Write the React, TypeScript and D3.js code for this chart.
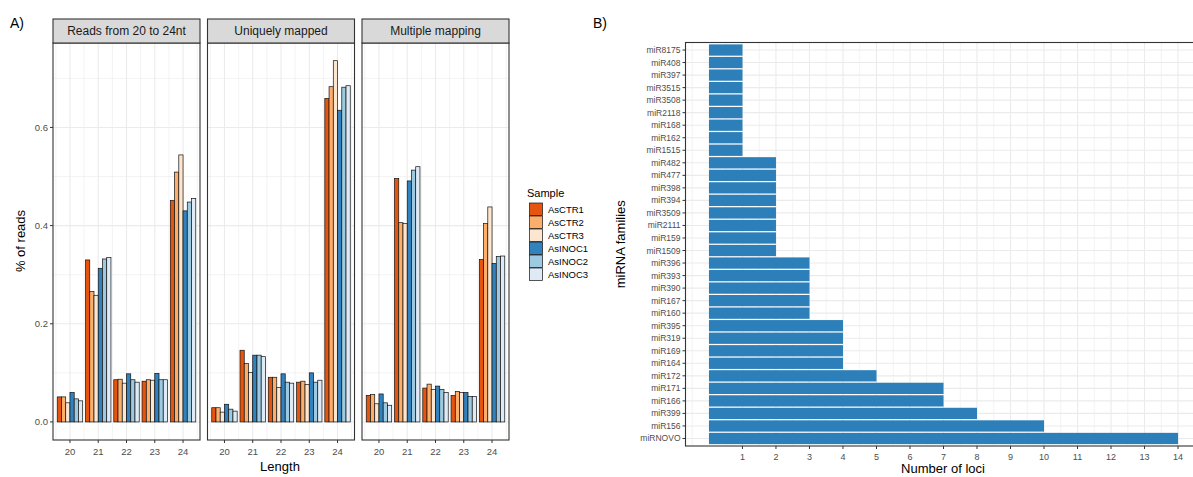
import React from 'react';
import * as d3 from 'd3';

// ---- data ----
const lengths = [20, 21, 22, 23, 24];
const samples = ['AsCTR1', 'AsCTR2', 'AsCTR3', 'AsINOC1', 'AsINOC2', 'AsINOC3'];
const sampleColors = ['#e6550d', '#fdae6b', '#fee6ce', '#3182bd', '#9ecae1', '#deebf7'];
const facets = ['Reads from 20 to 24nt', 'Uniquely mapped', 'Multiple mapping'];

// rows = length 20..24, cols = samples
const readsAll = [
  [0.051, 0.051, 0.039, 0.06, 0.047, 0.043],
  [0.33, 0.266, 0.258, 0.313, 0.332, 0.335],
  [0.086, 0.087, 0.079, 0.098, 0.086, 0.081],
  [0.083, 0.086, 0.085, 0.099, 0.086, 0.086],
  [0.451, 0.509, 0.544, 0.43, 0.448, 0.455],
];
const readsUnique = [
  [0.029, 0.029, 0.02, 0.036, 0.026, 0.022],
  [0.146, 0.119, 0.101, 0.136, 0.136, 0.133],
  [0.091, 0.091, 0.07, 0.098, 0.081, 0.079],
  [0.081, 0.083, 0.076, 0.1, 0.081, 0.085],
  [0.659, 0.683, 0.736, 0.635, 0.682, 0.685],
];
const readsMulti = [
  [0.054, 0.056, 0.037, 0.057, 0.039, 0.034],
  [0.496, 0.406, 0.404, 0.491, 0.513, 0.52],
  [0.069, 0.077, 0.066, 0.073, 0.066, 0.06],
  [0.054, 0.062, 0.06, 0.06, 0.052, 0.052],
  [0.331, 0.404, 0.438, 0.323, 0.337, 0.338],
];
const facetData = [readsAll, readsUnique, readsMulti];
const yTicksA = [0, 0.2, 0.4, 0.6];

const families = [
  'miR8175', 'miR408', 'miR397', 'miR3515', 'miR3508', 'miR2118', 'miR168', 'miR162', 'miR1515',
  'miR482', 'miR477', 'miR398', 'miR394', 'miR3509', 'miR2111', 'miR159', 'miR1509',
  'miR396', 'miR393', 'miR390', 'miR167', 'miR160',
  'miR395', 'miR319', 'miR169', 'miR164',
  'miR172', 'miR171', 'miR166', 'miR399', 'miR156', 'miRNOVO',
];
const loci = [
  1, 1, 1, 1, 1, 1, 1, 1, 1,
  2, 2, 2, 2, 2, 2, 2, 2,
  3, 3, 3, 3, 3,
  4, 4, 4, 4,
  5, 7, 7, 8, 10, 14,
];
const xTicksB = d3.range(1, 15);

const FONT = '"Liberation Sans", Arial, Helvetica, sans-serif';
const GRID = '#ebebeb';
const BORDER = '#333333';
const TICKTXT = '#4d4d4d';

const FacetPanel = ({ idx }: { idx: number }) => {
  const left = 53 + idx * 154.5;
  const w = 147;
  const top = 43;
  const bottom = 440;
  const x = d3.scaleLinear().domain([19.4, 24.6]).range([left, left + w]);
  const y = d3.scaleLinear().domain([-0.0368, 0.772]).range([bottom, top]);
  const sub = d3.scaleBand().domain(samples).range([-0.45, 0.45]);
  const rows = facetData[idx];
  const minorX = d3.range(19.5, 24.6, 1);
  const minorY = [0.1, 0.3, 0.5, 0.7];
  return (
    <g>
      {minorX.map((v) => (
        <line key={'mx' + v} x1={x(v)} x2={x(v)} y1={top} y2={bottom} stroke={GRID} strokeWidth={0.6} />
      ))}
      {minorY.map((v) => (
        <line key={'my' + v} x1={left} x2={left + w} y1={y(v)} y2={y(v)} stroke={GRID} strokeWidth={0.6} />
      ))}
      {lengths.map((l) => (
        <line key={'gx' + l} x1={x(l)} x2={x(l)} y1={top} y2={bottom} stroke={GRID} strokeWidth={1.1} />
      ))}
      {yTicksA.map((v) => (
        <line key={'gy' + v} x1={left} x2={left + w} y1={y(v)} y2={y(v)} stroke={GRID} strokeWidth={1.1} />
      ))}
      {rows.map((vals, li) =>
        vals.map((v, si) => (
          <rect
            key={li + '-' + si}
            x={x(lengths[li] + (sub(samples[si]) as number))}
            y={y(v)}
            width={x(sub.bandwidth()) - x(0)}
            height={y(0) - y(v)}
            fill={sampleColors[si]}
            stroke="#111"
            strokeWidth={0.7}
          />
        ))
      )}
      <rect x={left} y={top} width={w} height={bottom - top} fill="none" stroke={BORDER} strokeWidth={1.1} />
      <rect x={left} y={19} width={w} height={top - 19} fill="#d9d9d9" stroke={BORDER} strokeWidth={1.1} />
      <text x={left + w / 2} y={35} textAnchor="middle" fontSize={12} fill="#1a1a1a" fontFamily={FONT}>
        {facets[idx]}
      </text>
      {lengths.map((l) => (
        <g key={'xt' + l}>
          <line x1={x(l)} x2={x(l)} y1={bottom} y2={bottom + 3} stroke={BORDER} />
          <text x={x(l)} y={bottom + 15} textAnchor="middle" fontSize={9.5} fill={TICKTXT} fontFamily={FONT}>
            {l}
          </text>
        </g>
      ))}
      {idx === 0 &&
        yTicksA.map((v) => (
          <g key={'yt' + v}>
            <line x1={left - 3} x2={left} y1={y(v)} y2={y(v)} stroke={BORDER} />
            <text x={left - 5} y={y(v) + 3.5} textAnchor="end" fontSize={9.5} fill={TICKTXT} fontFamily={FONT}>
              {v.toFixed(1)}
            </text>
          </g>
        ))}
    </g>
  );
};

const PanelB = () => {
  const x = d3.scaleLinear().domain([-0.7, 14.7]).range([685.5, 1201.5]);
  const y = d3.scalePoint().domain(families).range([42.5, 446]).padding(0.6);
  const step = y.step();
  const top = 42.5;
  const bottom = 446;
  const minorX = d3.range(-0.5, 14.6, 1);
  return (
    <g>
      {minorX.map((v) => (
        <line key={'mx' + v} x1={x(v)} x2={x(v)} y1={top} y2={bottom} stroke={GRID} strokeWidth={0.6} />
      ))}
      {xTicksB.map((v) => (
        <line key={'gx' + v} x1={x(v)} x2={x(v)} y1={top} y2={bottom} stroke={GRID} strokeWidth={1.1} />
      ))}
      {families.map((f) => (
        <line key={'gy' + f} x1={x(-0.7)} x2={x(14.7)} y1={y(f)} y2={y(f)} stroke={GRID} strokeWidth={1.1} />
      ))}
      {families.map((f, i) => (
        <rect
          key={f}
          x={x(0)}
          y={(y(f) as number) - step * 0.45}
          width={x(loci[i]) - x(0)}
          height={step * 0.9}
          fill="#2c7fb8"
        />
      ))}
      <rect x={x(-0.7)} y={top} width={x(14.7) - x(-0.7)} height={bottom - top} fill="none" stroke={BORDER} strokeWidth={1.1} />
      {families.map((f) => (
        <g key={'yt' + f}>
          <line x1={x(-0.7) - 3} x2={x(-0.7)} y1={y(f)} y2={y(f)} stroke={BORDER} />
          <text x={x(-0.7) - 5} y={(y(f) as number) + 3} textAnchor="end" fontSize={8.5} fill={TICKTXT} fontFamily={FONT}>
            {f}
          </text>
        </g>
      ))}
      {xTicksB.map((v) => (
        <g key={'xt' + v}>
          <line x1={x(v)} x2={x(v)} y1={bottom} y2={bottom + 3} stroke={BORDER} />
          <text x={x(v)} y={bottom + 14} textAnchor="middle" fontSize={9} fill={TICKTXT} fontFamily={FONT}>
            {v}
          </text>
        </g>
      ))}
      <text x={943} y={473} textAnchor="middle" fontSize={13} fill="#000" fontFamily={FONT}>
        Number of loci
      </text>
      <text
        transform={`translate(625,${(top + bottom) / 2}) rotate(-90)`}
        textAnchor="middle"
        fontSize={13}
        fill="#000"
        fontFamily={FONT}
      >
        miRNA families
      </text>
    </g>
  );
};

const App = () => {
  return (
    <svg
      width={1193}
      height={477}
      style={{ position: 'absolute', left: 0, top: 0, background: '#fff' }}
      fontFamily={FONT}
    >
      <rect width={1193} height={477} fill="#fff" />
      <text x={10} y={28} fontSize={14} fill="#000">A)</text>
      <text x={593} y={28} fontSize={14} fill="#000">B)</text>
      {facets.map((f, i) => (
        <FacetPanel key={f} idx={i} />
      ))}
      <text x={280} y={471} textAnchor="middle" fontSize={13} fill="#000">Length</text>
      <text transform="translate(25,241) rotate(-90)" textAnchor="middle" fontSize={13} fill="#000">
        % of reads
      </text>
      <text x={527} y={197} fontSize={11} fill="#000">Sample</text>
      {samples.map((s, i) => (
        <g key={s}>
          <rect x={529.5} y={203 + i * 13} width={13} height={12.5} fill={sampleColors[i]} stroke="#111" strokeWidth={0.7} />
          <text x={548} y={213 + i * 13} fontSize={9.5} fill="#000">{s}</text>
        </g>
      ))}
      <PanelB />
    </svg>
  );
};

export default App;
